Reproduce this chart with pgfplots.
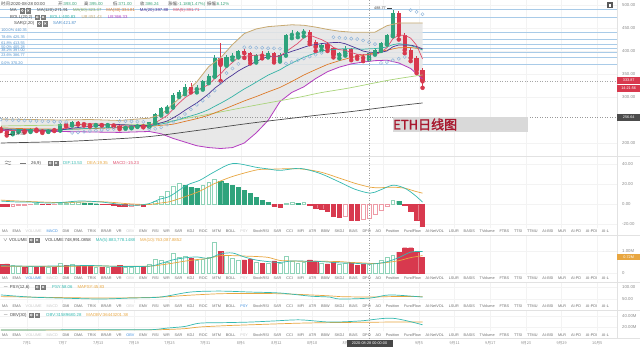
\documentclass[border=0pt]{standalone}
\usepackage{fontspec}
\setmainfont{Liberation Sans}
\newfontfamily\cjk{Noto Sans CJK SC}
\newfontfamily\cjkb[FakeBold=2]{Noto Sans CJK SC}
\usepackage{pgfplots}
\pgfplotsset{compat=1.18}
\usepackage{pgfplotstable}
\newcommand\ft{\fontsize{4.3}{5}\selectfont}
\newcommand\fs{\fontsize{3.8}{4.5}\selectfont}
\newlength\tg \setlength\tg{4.8pt}
\definecolor{up}{HTML}{2FA37C}
\definecolor{dn}{HTML}{D8394E}
\definecolor{uph}{HTML}{8FD3B8}
\definecolor{dnh}{HTML}{EE9AA6}
\definecolor{ma5}{HTML}{E0506E}
\definecolor{ma10}{HTML}{4B3596}
\definecolor{ma20}{HTML}{35B3A6}
\definecolor{ma30}{HTML}{DD7A2A}
\definecolor{ma60}{HTML}{A9D47A}
\definecolor{ma120}{HTML}{4A4A4A}
\definecolor{ub}{HTML}{C8AA72}
\definecolor{lb}{HTML}{B43CC0}
\definecolor{sar}{HTML}{8DB4DA}
\definecolor{fib}{HTML}{A9CBE8}
\definecolor{fibt}{HTML}{4F8FCB}
\definecolor{dif}{HTML}{34B9B0}
\definecolor{dea}{HTML}{E8A640}
\definecolor{tabc}{HTML}{6E6E6E}
\definecolor{tabf}{HTML}{C8C8C8}
\definecolor{tabon}{HTML}{3F8FDF}
\definecolor{axt}{HTML}{8A8A8A}
\definecolor{sep}{HTML}{E2E2E2}
\definecolor{grd}{HTML}{F3F3F3}
\definecolor{ethred}{HTML}{A8182E}
\definecolor{icc}{HTML}{7A7A7A}
\definecolor{txt}{HTML}{444444}
\definecolor{val}{HTML}{3AA57A}

% candles: day index, open, high, low, close, volume (M)
\pgfplotstableread{
d o h l c v
-3 221 228 219 226 0.35
-2 226 231 224 228 0.30
0 226 233 224 231 0.30
3 225 230 224 229 0.27
5 228 243 227 241 0.45
7 239 247 238 246 0.40
11 239 243 238 242 0.28
13 239 242 237 241 0.26
16 233 235 231 233.4 0.26
17 233 238 232 236 0.27
18 236 240 235 239 0.30
20 236 246 235 245 0.42
21 245 265 243 263 0.62
22 263 279 260 275 0.58
23 275 282 268 279 0.50
24 279 308 277 305 0.90
25 305 315 300 311 0.70
26 311 329 306 322 0.75
28 317 326 310 318 0.60
29 318 336 316 334 0.62
30 334 349 330 345 0.72
31 345 392 344 385 1.40
33 370 392 368 386 0.80
34 386 395 381 389 0.65
35 389 402 386 401 0.60
38 379 394 375 391 0.50
40 390 399 386 395 0.45
42 380 395 377 391 0.45
43 400 438 390 435 0.75
44 435 446 428 437 0.55
45 437 444 430 440 0.45
46 440 448 432 442 0.50
49 409 418 402 413 0.45
52 391 398 384 395 0.38
53 395 410 390 404 0.45
57 385 398 382 396 0.42
58 396 405 392 402 0.45
59 402 420 400 417 0.60
60 417 437 414 435 0.70
61 435 488.77 432 483 0.80
}\upc
\pgfplotstableread{
d o h l c v
-5 232 236 226 230 0.38
-4 230 231 216.32 221 0.42
-1 228 229 223 226 0.28
1 231 233 226 229 0.28
2 229 230 222 225 0.30
4 229 230 226 228 0.25
6 241 242 236 239 0.35
8 246 248 240 242 0.33
9 242 244 238 241 0.30
10 241 242 236 239 0.30
12 242 243 238 239 0.27
14 241 242 236 238 0.28
15 238 239 230 233 0.35
19 239 240 234 236 0.30
27 322 330 310 317 0.68
32 385 417 335 370 1.00
36 401 404 385 395 0.60
37 395 398 373 379 0.62
39 391 399 384 390 0.45
41 395 398 375 380 0.55
47 442 445 415 420 0.60
48 420 425 400 409 0.55
50 415 420 400 406 0.42
51 406 408 386 391 0.50
54 404 406 380 387 0.50
55 390 392 383 388 0.35
56 388 394 378 385 0.40
62 483 486 425 435 0.95
63 435 440 395 402 1.15
64 402 408 378 385 1.15
65 385 390 352 358 0.95
66 358 362 320 334 0.72
}\dnc
% moving averages
\pgfplotstableread{
d ma5 ma10 ma20 ma30
-5 229 229 231 233
-4 228 229 230.5 232.5
-3 227 228.5 230 232
-2 226.5 228 229.6 231.5
-1 226.2 227.8 229.3 231.2
0 226.4 227.5 229 231
1 228 227.3 228.8 230.8
2 227.8 227.2 228.7 230.5
3 228 227.1 228.6 230.3
4 228.4 227.3 228.7 230.1
5 230.4 228.4 229 230
6 232.4 230.2 229.5 230.1
7 236.6 232.2 230 230.3
8 239.2 233.6 230.6 230.5
9 241.8 235.1 231.3 230.8
10 241.4 235.9 231.9 231
11 242 237.2 232.5 231.5
12 240.6 238.6 233.1 232
13 240.4 239.8 233.6 232.5
14 239.8 240.8 234 233
15 238.6 240 234.2 233.5
16 236.8 239.4 234.8 234
17 236.2 238.4 235.3 234.5
18 235.8 238.1 235.9 235
19 235.4 237.6 236.4 235.5
20 237.8 238.2 237.1 236
21 243.8 240.3 238.8 237.2
22 251.6 243.9 241.3 238.5
23 259.6 247.7 243.8 239.5
24 273.4 254.4 247.6 240.8
25 286.6 262.2 251.1 243.8
26 298.4 271.1 255.3 246.9
27 306.8 279.2 258.8 249.9
28 314.6 287.1 262.6 252.9
29 320.4 296.9 267.3 256.6
30 327.2 306.9 272.6 260.3
31 339.8 319.1 279.7 265.3
32 350.4 328.6 286.3 270.4
33 364 339.3 293.5 275.7
34 375 347.7 301.1 281
35 386.2 356.7 309.5 286.2
36 388.2 364 317.6 291.5
37 390 370.2 324.7 296.2
38 391 377.5 332.3 300.9
39 391.2 383.1 340 306
40 390 388.1 347.5 311.1
41 387 387.6 353.4 315.9
42 389.4 389.7 359.2 320.7
43 398.2 394.6 367 327.2
44 407.6 399.4 373.6 333.8
45 416.6 403.3 380 340.7
46 429 408 386 347.7
47 434.8 412.1 391.2 353.6
48 429.6 413.9 395.7 359.5
49 424.8 416.2 399.7 365.2
50 418 417.3 402.7 370.8
51 407.8 418.4 403 374.9
52 402.8 418.8 404.3 379
53 401.8 415.7 405.2 382.5
54 396.6 410.7 405.1 385.9
55 393 405.5 404.4 388.2
56 391.8 399.8 403.9 390.6
57 392 397.4 404.8 393.3
58 391.6 396.7 405.3 396
59 397.6 397.1 406.7 398.9
60 407 400 408.7 401.8
61 426.6 409.2 413.8 404.5
62 434.4 413.2 416 407.2
63 434.4 413 414.4 407.4
64 428 412.8 411.8 407.6
65 412.6 409.8 407.7 405.9
66 382.8 404.7 402.3 404.2
}\mas
\pgfplotstableread{
d ma60 ma120
-5 237 200
5 239 203
11.7 240 207
20 241 214
28.5 259 228
37 280 243
45.4 300 256
48.7 309 261
53.8 320 268
60.5 337 279
66 348 287
}\malong
\pgfplotstableread{
d ub lb
-5 252 227
0 251 226
5 250 225
10 251 224
15 249 223
20 254 225
22 262 220
24 285 210
26 308 202
28 333 194
30 366 190
32 385 188
34 414 190
36 438 200
38 448 222
40 453 249
42 455 290
44 457 310
46 456 322
48 452 340
50 447 355
52 443 365
54 441 372
56 441 376
58 441 379
60 455 380
62 461 374
64 461 362
66 461 339
}\boll
% band outline (upper forward, lower back) for the shaded area
\pgfplotstableread{
d p
-5 252
0 251
5 250
10 251
15 249
20 254
22 262
24 285
26 308
28 333
30 366
32 385
34 414
36 438
38 448
40 453
42 455
44 457
46 456
48 452
50 447
52 443
54 441
56 441
58 441
60 455
62 461
64 461
66 461
66 339
64 362
62 374
60 380
58 379
56 376
54 372
52 365
50 355
48 340
46 322
44 310
42 290
40 249
38 222
36 200
34 190
32 188
30 190
28 194
26 202
24 210
22 220
20 225
15 223
10 224
5 225
0 226
-5 227
}\bollarea
\pgfplotstableread{
d p
-5 251
-4 250.5
-3 250
-2 249.5
-1 249
0 248.5
1 248
2 247.5
3 247
4 246.5
5 246
6 245.5
7 222
8 223
9 224.5
10 226
11 227
12 228.5
13 229.5
14 230.5
15 248
16 247.5
17 247
18 246.5
19 246
20 230
21 231
22 234
23 240
24 246
25 254
26 263
27 273
28 283
29 292
30 302
31 314
32 330
33 352
34 362
35 372
36 408
37 408
38 407
39 407
40 406
41 406
42 405
43 373
44 376
45 380
46 384
47 388
48 392
49 396
51 430
52 429
53 428
54 427
55 426
56 423
57 419
58 415
59 374
60 376
61 380
62 383
63 387
64 489
65 485
66 480
}\sard
% MACD
\pgfplotstableread{
d dif dea
-5 3 4
-2 2 3
0 2 2.5
3 1 1.8
5 1.5 1.5
8 3 2
10 2.8 2.3
12 2 2.3
14 0.5 1.6
16 -1 0.5
18 -1.2 -0.2
20 0.5 -0.4
21.8 5 1
23.5 8 2.5
26.3 19 8
28.5 24 13
31.1 33 21
34.1 41 28
38.1 37 34.5
40 35.5 35
42 34 35.5
45.4 36 35.5
48.7 31 32.5
52.1 22 26
54.6 15 21
57.2 11 17
58.8 14 16.5
61 19 17
63 16 16
64.7 9 13
66 2 11
}\macdl
\pgfplotstableread{
d m
9 1.2
10 0.6
11 0.3
26 19
27 17
28 16
32 23
33 21
34 19
35 17
36 14
37 11
38 7
39 4
40 2
45 1
62 3
}\hgf
\pgfplotstableread{
d m
1 0.3
5 0.5
6 1
7 1.5
8 1.8
21 3
22 8
23 13
24 18
25 21
29 19
30 22
31 25
43 1
44 1.5
46 1.5
61 4
}\hgh
\pgfplotstableread{
d m
-5 -2
-4 -2.5
2 -0.3
3 -0.5
12 -0.3
13 -0.6
14 -1
15 -1.8
16 -2.4
19 -1.8
41 -2
42 -3
47 -1.5
48 -4
49 -5
50 -7
51 -12
52 -13
54 -16
55 -16
63 -1.5
64 -7
65 -16
66 -22
}\hrf
\pgfplotstableread{
d m
-3 -2
-2 -1.5
-1 -1
0 -0.5
4 -0.2
17 -2
18 -1.6
20 -0.6
53 -12
56 -15
57 -14
58 -10
59 -6
60 -2
}\hrh
\pgfplotstableread{
d m5 m10
-5 0.33 0.31
0 0.31 0.31
5 0.32 0.30
10 0.34 0.32
15 0.30 0.31
20 0.31 0.31
22 0.44 0.37
24 0.60 0.45
26 0.69 0.54
28 0.73 0.61
30 0.67 0.67
32 0.87 0.79
34 0.91 0.79
36 0.73 0.77
38 0.59 0.75
40 0.52 0.71
42 0.48 0.57
44 0.55 0.55
46 0.54 0.53
48 0.53 0.53
50 0.50 0.53
52 0.46 0.52
54 0.45 0.48
56 0.42 0.46
58 0.42 0.43
60 0.51 0.48
62 0.70 0.56
64 0.95 0.70
66 0.98 0.79
}\volma
\pgfplotstableread{
d psy mapsy
-5 67 60
0 58 58
5 54 56
11.7 50 54
16.8 54 55
21.8 58 58
26.9 79 66
31.9 83 72
37 79 73
42 75 72
47.1 62 67
50.4 58 63
52.1 50 60
57.2 54 58
60.5 67 60
66 58 60
}\psyt
\pgfplotstableread{
d obv maobv
-5 14.5 14.5
5 14.8 14.6
12 15.2 14.7
20 15 14.8
23 18 15.5
26 21 17
28.5 27 20
33 28 22.5
37 29 24
41 31 25.5
45.4 33 27
50.4 29 28
55.5 31 28.5
60.9 36 29
66 24 29
}\obvt

\pgfplotsset{
  panel/.style={scale only axis, width=617pt, xmin=-5.135, xmax=98.74, anchor=north west,
    axis line style={draw=none}, major tick length=0pt,
    ytick pos=right, yticklabel pos=right,
    yticklabel style={anchor=west, inner sep=0pt, font=\ft, text=axt},
    yticklabel shift=5pt,
    xtick={-0.59,5.41,11.41,17.41,23.41,29.41,35.41,41.41,47.41,53.41,59.41,65.41,71.41,77.41,83.41,89.41,95.41},
    xticklabels={,,,,,,,,,,,,,,,,},
    grid=major, grid style={grd, line width=0.4pt},
    clip=true},
  candle/.style={forget plot, only marks, mark=none, color=#1, error bars/.cd, y dir=plus, y explicit, error mark=none},
}
\tikzset{fibl/.style={anchor=south west, inner sep=0.3pt, font=\fs, text=fibt}}
\newcommand\icons[2]{%
  \draw[draw=icc, fill=icc, line width=0.3pt] (#1,#2-2.3) rectangle ++(4.6,4.6);
  \draw[white, line width=0.35pt] (#1+2.3,#2) circle (1.1);
  \draw[draw=icc, fill=icc, line width=0.3pt] (#1+5.8,#2-2.3) rectangle ++(4.6,4.6);
  \draw[white, line width=0.35pt] (#1+7,#2-1.1) -- ++(2.2,2.2) (#1+7,#2+1.1) -- ++(2.2,-2.2);}
\newcommand\tabrow[5]{\node[anchor=west, inner sep=0pt, font=\fs, text=tabc] at (2,#1) {MA\hspace{\tg}EMA\hspace{\tg}\textcolor{#2}{VOLUME}\hspace{\tg}\textcolor{#3}{MACD}\hspace{\tg}DMI\hspace{\tg}DMA\hspace{\tg}TRIX\hspace{\tg}BRAR\hspace{\tg}VR\hspace{\tg}\textcolor{#4}{OBV}\hspace{\tg}EMV\hspace{\tg}RSI\hspace{\tg}WR\hspace{\tg}SAR\hspace{\tg}KDJ\hspace{\tg}ROC\hspace{\tg}MTM\hspace{\tg}BOLL\hspace{\tg}\textcolor{#5}{PSY}\hspace{\tg}StochRSI\hspace{\tg}SAR\hspace{\tg}CCI\hspace{\tg}MFI\hspace{\tg}ATR\hspace{\tg}BBW\hspace{\tg}SKDJ\hspace{\tg}BIAS\hspace{\tg}DPO\hspace{\tg}AO\hspace{\tg}Position\hspace{\tg}FundFlow\hspace{\tg}AI-NetVOL\hspace{\tg}LSUR\hspace{\tg}BASIS\hspace{\tg}TVolume\hspace{\tg}FTBS\hspace{\tg}TTSI\hspace{\tg}TTMU\hspace{\tg}AI-BSI\hspace{\tg}MLR\hspace{\tg}AI-PD\hspace{\tg}AI-PDI\hspace{\tg}AI-L};}

\begin{document}
\begin{tikzpicture}
\path[use as bounding box, fill=white] (0pt,0pt) rectangle (640pt,-346pt);

% ---------------- main price panel ----------------
\begin{axis}[panel, at={(0pt,0pt)}, height=156pt, ymin=171.7, ymax=510.9,
  ytick={200,300,350,400,450,500}, yticklabels={200.00,300.00,350.00,400.00,450.00,500.00}]
\pgfplotsinvokeforeach{491.3,473.9,440.35,425.35,413.55,405.28,397.00,386.77,370.20}{
  \addplot[fib, line width=0.6pt, forget plot] coordinates {(-6,#1) (100,#1)};}
\addplot[fill=black!10, fill opacity=0.85, draw=none, forget plot] table[x=d,y=p]{\bollarea};
\addplot[gray!70, dotted, line width=0.5pt, forget plot] coordinates {(-6,333.87) (100,333.87)};
\addplot[gray!80, dotted, line width=0.5pt, forget plot] coordinates {(-6,256.64) (100,256.64)};
% candles
\addplot[candle=up, error bar style={line width=0.6pt}] table[x=d, y=l, y error plus expr=\thisrow{h}-\thisrow{l}]{\upc};
\addplot[candle=up, error bar style={line width=4.2pt}] table[x=d, y=o, y error plus expr={max(\thisrow{c}-\thisrow{o},1)}]{\upc};
\addplot[candle=dn, error bar style={line width=0.6pt}] table[x=d, y=l, y error plus expr=\thisrow{h}-\thisrow{l}]{\dnc};
\addplot[candle=dn, error bar style={line width=4.2pt}] table[x=d, y=c, y error plus expr={max(\thisrow{o}-\thisrow{c},1)}]{\dnc};
% bands and averages
\addplot[ub, line width=0.8pt, forget plot] table[x=d,y=ub]{\boll};
\addplot[lb, line width=0.8pt, forget plot] table[x=d,y=lb]{\boll};
\addplot[ma120, line width=0.7pt, smooth, forget plot] table[x=d,y=ma120]{\malong};
\addplot[ma60, line width=0.7pt, smooth, forget plot] table[x=d,y=ma60]{\malong};
\addplot[ma30, line width=0.7pt, forget plot] table[x=d,y=ma30]{\mas};
\addplot[ma20, line width=0.7pt, forget plot] table[x=d,y=ma20]{\mas};
\addplot[ma10, line width=0.7pt, forget plot] table[x=d,y=ma10]{\mas};
\addplot[ma5, line width=0.7pt, forget plot] table[x=d,y=ma5]{\mas};
\addplot[sar, only marks, mark=o, mark size=1.6pt, mark options={line width=0.45pt}, forget plot] table[x=d,y=p]{\sard};
% fib labels
\node[fibl] at (axis cs:-5.0,440.35) {100.0\% 440.35};
\node[fibl] at (axis cs:-5.0,425.35) {78.6\% 425.35};
\node[fibl] at (axis cs:-5.0,413.55) {61.8\% 413.55};
\node[fibl] at (axis cs:-5.0,405.28) {50.0\% 405.28};
\node[fibl] at (axis cs:-5.0,397.00) {38.2\% 397.00};
\node[fibl] at (axis cs:-5.0,386.77) {23.6\% 386.77};
\node[fibl] at (axis cs:-5.0,370.20) {0.0\% 370.20};
\end{axis}

% ---------------- MACD ----------------
\begin{axis}[panel, at={(0pt,-157pt)}, height=71pt, ymin=-24.2, ymax=47.5,
  ytick={-20,0,20,40}, yticklabels={-20.00,0.00,20.00,40.00}]
\addplot[ybar, bar width=4.2pt, bar shift=0pt, fill=up, draw=up, line width=0.3pt, forget plot] table[x=d,y=m]{\hgf};
\addplot[ybar, bar width=3.8pt, bar shift=0pt, fill=white, draw=uph, line width=0.5pt, forget plot] table[x=d,y=m]{\hgh};
\addplot[ybar, bar width=4.2pt, bar shift=0pt, fill=dn, draw=dn, line width=0.3pt, forget plot] table[x=d,y=m]{\hrf};
\addplot[ybar, bar width=3.8pt, bar shift=0pt, fill=white, draw=dnh, line width=0.5pt, forget plot] table[x=d,y=m]{\hrh};
\addplot[dea, line width=0.7pt, smooth, forget plot] table[x=d,y=dea]{\macdl};
\addplot[dif, line width=0.7pt, smooth, forget plot] table[x=d,y=dif]{\macdl};
\end{axis}

% ---------------- VOLUME ----------------
\begin{axis}[panel, at={(0pt,-236pt)}, height=39pt, ymin=-0.091, ymax=1.682,
  ytick={0,1}, yticklabels={0,1.00M}]
\addplot[ybar, bar width=3.8pt, bar shift=0pt, fill=white, draw=uph, line width=0.5pt, forget plot] table[x=d,y=v]{\upc};
\addplot[ybar, bar width=4.2pt, bar shift=0pt, fill=dn, draw=dn, line width=0.3pt, forget plot] table[x=d,y=v]{\dnc};
\addplot[dea, line width=0.7pt, smooth, forget plot] table[x=d,y=m10]{\volma};
\addplot[dif, line width=0.7pt, smooth, forget plot] table[x=d,y=m5]{\volma};
\end{axis}

% ---------------- PSY ----------------
\begin{axis}[panel, at={(0pt,-283pt)}, height=20pt, ymin=33.3, ymax=116.7,
  ytick={50,100}, yticklabels={50.00,100.00}]
\addplot[dea, line width=0.7pt, smooth, forget plot] table[x=d,y=mapsy]{\psyt};
\addplot[dif, line width=0.7pt, smooth, forget plot] table[x=d,y=psy]{\psyt};
\end{axis}

% ---------------- OBV ----------------
\begin{axis}[panel, at={(0pt,-311pt)}, height=20pt, ymin=12.7, ymax=49.1,
  ytick={20,40}, yticklabels={20.00M,40.00M},
  xticklabels={7月1,7月7,7月13,7月19,7月25,7月31,8月6,8月12,8月18,8月24,,9月5,9月11,9月17,9月23,9月29,10月5},
  xticklabel style={font=\cjk\fs, text=axt, anchor=center, yshift=-12pt}]
\addplot[dea, line width=0.7pt, smooth, forget plot] table[x=d,y=maobv]{\obvt};
\addplot[dif, line width=0.7pt, smooth, forget plot] table[x=d,y=obv]{\obvt};
\end{axis}

\begin{scope}[x=1pt,y=-1pt]
% ---------------- frame, separators, crosshair ----------------
\draw[sep, line width=0.5pt] (617,0) -- (617,338);
\foreach \yy in {156.5,235,282,310,338.5} {\draw[sep, line width=0.5pt] (0,\yy) -- (640,\yy);}
\draw[gray!75, dotted, line width=0.5pt] (369,0) -- (369,338);

% ---------------- top legends ----------------
\node[anchor=west, inner sep=0pt, font=\ft, text=txt] at (1,4) {{\cjk 时间}:2020-08-28 00:00};
\node[anchor=west, inner sep=0pt, font=\ft, text=txt] at (58,4) {{\cjk 开}:\textcolor{val}{393.00}};
\node[anchor=west, inner sep=0pt, font=\ft, text=txt] at (84,4) {{\cjk 高}:\textcolor{val}{395.00}};
\node[anchor=west, inner sep=0pt, font=\ft, text=txt] at (113,4) {{\cjk 低}:\textcolor{val}{371.00}};
\node[anchor=west, inner sep=0pt, font=\ft, text=txt] at (140,4) {{\cjk 收}:\textcolor{val}{386.24}};
\node[anchor=west, inner sep=0pt, font=\ft, text=txt] at (168,4) {{\cjk 涨幅}:\textcolor{val}{-1.188(1.47\%)}};
\node[anchor=west, inner sep=0pt, font=\ft, text=txt] at (207,4) {{\cjk 振幅}:\textcolor{val}{6.12\%}};

\node[anchor=west, inner sep=0pt, font=\ft, text=txt] at (10,10.5) {MA};
\icons{20}{10.5}
\node[anchor=west, inner sep=0pt, font=\ft] at (37,10.5) {\textcolor{ma120}{MA(120):271.91}\hspace{5pt}\textcolor{ma60!80!black}{MA(60):323.37}\hspace{5pt}\textcolor{ma30}{MA(30):334.81}\hspace{5pt}\textcolor{ma10}{MA(20):397.88}\hspace{5pt}\textcolor{ma5}{MA(5):391.71}};

\node[anchor=west, inner sep=0pt, font=\ft, text=txt] at (10,17) {BOLL(20,2)};
\icons{35}{17}
\node[anchor=west, inner sep=0pt, font=\ft] at (50,17) {\textcolor{ma20}{BOLL:400.83}\hspace{6pt}\textcolor{ub}{UB:451.43}\hspace{6pt}\textcolor{lb}{LB:366.33}};

\node[anchor=west, inner sep=0pt, font=\ft, text=txt] at (14,23.5) {SAR(2,20)};
\icons{37}{23.5}
\node[anchor=west, inner sep=0pt, font=\ft, text=fibt] at (53,23.5) {SAR:421.87};

% extreme labels
\node[anchor=east, inner sep=0pt, font=\fs, text=txt] at (386,8.5) {488.77};
\draw[txt, line width=0.4pt] (387,8.5) -- (392,8.5);
\node[anchor=west, inner sep=0pt, font=\fs, text=txt] at (13,134.5) {216.32};
\draw[txt, line width=0.4pt] (8,134.5) -- (12,134.5);

% ETH label
\fill[black!15] (393,117) rectangle (528,132);
\node[anchor=west, inner sep=0pt, font=\fontsize{13}{14}\selectfont, text=ethred] at (393,124.5) {\cjkb ETH日线图};

% right side boxes
\node[fill=dn, text=white, font=\fs, inner sep=0pt, minimum width=23pt, minimum height=7pt, anchor=west] at (617,80.5) {333.87};
\node[fill=dn, text=white, font=\fs, inner sep=0pt, minimum width=23pt, minimum height=7pt, anchor=west] at (617,88) {14:21:56};
\node[fill=black!70, text=white, font=\fs, inner sep=0pt, minimum width=23pt, minimum height=7pt, anchor=west] at (617,117) {256.64};
\node[fill=dea, text=white, font=\fs, inner sep=0pt, minimum width=23pt, minimum height=6.5pt, anchor=west] at (617,257) {0.72M};
\fill[black!65] (607,2) rectangle (613,8);
\fill[white] (609,3.5) rectangle (611,6.5);

% sub-panel legends
\draw[icc, line width=0.5pt] (5,161.5) .. controls (7,159.5) and (9,163.5) .. (11,161.5);
\draw[icc, line width=0.5pt] (5,164) .. controls (7,162) and (9,166) .. (11,164);
\draw[icc, line width=0.6pt] (20,163) -- (26,163);
\node[anchor=west, inner sep=0pt, font=\ft, text=txt] at (31,163) {26,9)};
\icons{48}{163}
\node[anchor=west, inner sep=0pt, font=\ft] at (63,163) {\textcolor{dif}{DIF:13.53}\hspace{5pt}\textcolor{dea}{DEA:19.35}\hspace{5pt}\textcolor{ma5}{MACD:-15.23}};

\node[anchor=west, inner sep=0pt, font=\ft, text=txt] at (3,240) {$\vee$ VOLUME};
\icons{29}{240}
\node[anchor=west, inner sep=0pt, font=\ft] at (45,240) {\textcolor{txt}{VOLUME:748,991.0858}\hspace{5pt}\textcolor{dif}{MA(5):883,778.1488}\hspace{5pt}\textcolor{dea}{MA(10):763,087.8852}};

\node[anchor=west, inner sep=0pt, font=\ft, text=txt] at (3,287) {$-$ PSY(12,6)};
\icons{35}{287}
\node[anchor=west, inner sep=0pt, font=\ft] at (52,287) {\textcolor{dif}{PSY:58.06}\hspace{5pt}\textcolor{dea}{MAPSY:45.83}};

\node[anchor=west, inner sep=0pt, font=\ft, text=txt] at (3,315) {$-$ OBV(30)};
\icons{29}{315}
\node[anchor=west, inner sep=0pt, font=\ft] at (46,315) {\textcolor{dif}{OBV:31589680.28}\hspace{5pt}\textcolor{dea}{MAOBV:36443201.38}};

% tab rows
\tabrow{231}{tabf}{tabon}{tabf}{tabf}
\tabrow{278}{tabon}{tabf}{tabf}{tabf}
\tabrow{306.5}{tabf}{tabf}{tabf}{tabon}
\tabrow{335}{tabf}{tabf}{tabon}{tabf}

% date crosshair box
\node[fill=black!72, text=white, font=\fs, inner sep=0pt, minimum width=46pt, minimum height=7pt] at (369.5,343) {2020-08-28 00:00:00};
\end{scope}
\end{tikzpicture}
\end{document}
